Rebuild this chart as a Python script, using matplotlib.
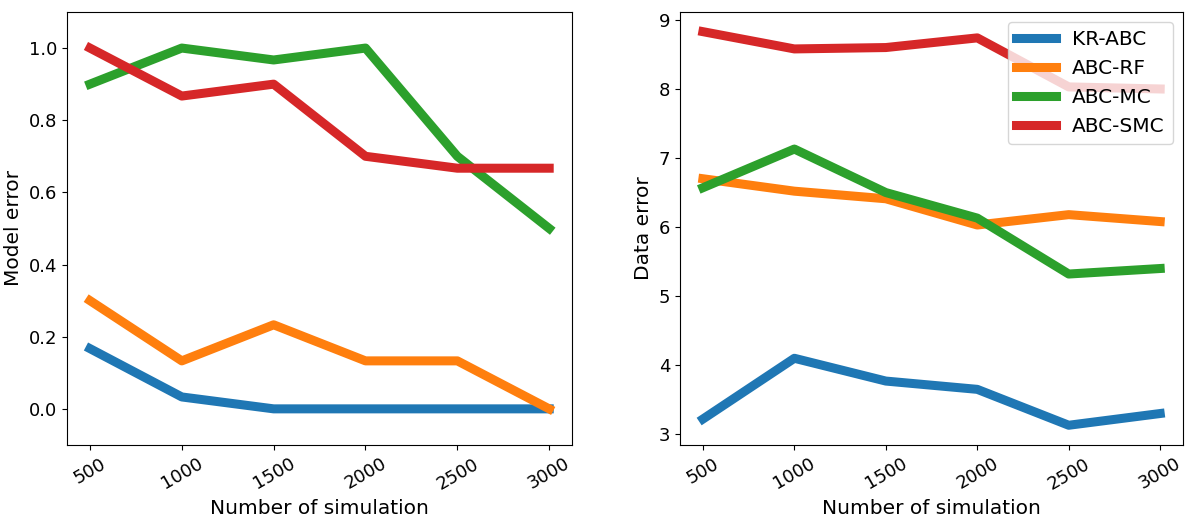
import numpy as np
import matplotlib
matplotlib.use('Agg')
import matplotlib.pyplot as plt

n_sim = [500, 1000, 1500, 2000, 2500, 3000]
methods = ['KR-ABC', 'ABC-RF', 'ABC-MC', 'ABC-SMC']

# model error (left)
model_kr = [0.167, 0.033, 0.0, 0.0, 0.0, 0.0]
model_rf = [0.3, 0.133, 0.233, 0.133, 0.133, 0.0]
model_mc = [0.9, 1.0, 0.967, 1.0, 0.7, 0.5]
model_smc = [1.0, 0.867, 0.9, 0.7, 0.667, 0.667]

# data error (right)
data_kr = [3.22, 4.1, 3.77, 3.65, 3.13, 3.3]
data_rf = [6.7, 6.52, 6.41, 6.03, 6.18, 6.08]
data_mc = [6.57, 7.13, 6.5, 6.13, 5.32, 5.4]
data_smc = [8.83, 8.58, 8.6, 8.74, 8.03, 8.0]

fig = plt.figure(figsize=(11.92, 5.21), dpi=100)
ax1 = fig.add_axes([0.0562, 0.146, 0.4238, 0.831])
ax2 = fig.add_axes([0.5705, 0.146, 0.422, 0.831])

lw = 6.5
for y, lab in zip([model_kr, model_rf, model_mc, model_smc], methods):
    ax1.plot(n_sim, y, linewidth=lw, label=lab)
for y, lab in zip([data_kr, data_rf, data_mc, data_smc], methods):
    ax2.plot(n_sim, y, linewidth=lw, label=lab)

ax1.set_ylim(-0.1, 1.1)
ax1.set_ylabel("Model error", fontsize=14.5)
ax2.set_ylabel("Data error", fontsize=14.5)
for ax in (ax1, ax2):
    ax.set_xlabel("Number of simulation", fontsize=14.5)
    ax.set_xticks(n_sim)
    ax.tick_params(labelsize=13)
    plt.setp(ax.get_xticklabels(), rotation=30)

ax2.legend(fontsize=14.5, loc='upper right')

fig.savefig('out.png', dpi=100)
